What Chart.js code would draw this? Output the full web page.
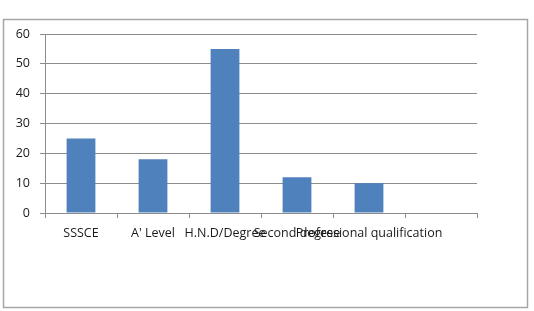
<!DOCTYPE html>
<html>
<head>
<meta charset="utf-8">
<script src="https://cdn.jsdelivr.net/npm/chart.js@4/dist/chart.umd.min.js"></script>
<style>
html,body{margin:0;padding:0;background:#fff;}
#wrap{width:534px;height:311px;position:relative;}
</style>
</head>
<body>
<div id="wrap"><canvas id="c" width="534" height="311"></canvas></div>
<script>
const categories = ["SSSCE", "A' Level", "H.N.D/Degree", "Second degree", "Professional qualification", ""];
const values = [25, 18, 55, 12, 10, null];
const yTicks = [0, 10, 20, 30, 40, 50, 60];

const frame = {
  id: 'frame',
  beforeDraw(chart) {
    const ctx = chart.ctx;
    ctx.save();
    ctx.fillStyle = '#fff';
    ctx.fillRect(0, 0, chart.width, chart.height);
    ctx.strokeStyle = '#a6a6a6';
    ctx.lineWidth = 1.5;
    ctx.strokeRect(3.5, 19.5, 524, 288);
    ctx.restore();
  }
};

const fontSpec = { family: '"Open Sans", Lato, sans-serif', size: 12.5 };

new Chart(document.getElementById('c'), {
  type: 'bar',
  data: {
    labels: categories,
    datasets: [{
      data: values,
      backgroundColor: '#4F81BD',
      borderWidth: 0,
      barPercentage: 0.4,
      categoryPercentage: 1.0
    }]
  },
  options: {
    responsive: false,
    animation: false,
    plugins: { legend: { display: false }, tooltip: { enabled: false } },
    layout: { padding: { left: 0, right: 57, top: 34, bottom: 0 } },
    scales: {
      x: {
        offset: true,
        grid: { offset: true, drawOnChartArea: false, drawTicks: true, tickLength: 5, color: '#8c8c8c' },
        border: { color: '#8c8c8c' },
        ticks: {
          autoSkip: false, maxRotation: 0, minRotation: 0, padding: 8,
          color: '#1a1a1a', font: fontSpec
        },
        afterFit(scale) { scale.height = 98; }
      },
      y: {
        min: 0, max: 60,
        afterBuildTicks(scale) { scale.ticks = yTicks.map(v => ({ value: v })); },
        grid: { color: '#8c8c8c', tickLength: 5 },
        border: { color: '#8c8c8c' },
        ticks: {
          padding: 10, color: '#1a1a1a',
          font: fontSpec
        },
        afterFit(scale) { scale.width = 45; }
      }
    }
  },
  plugins: [frame]
});
</script>
</body>
</html>
